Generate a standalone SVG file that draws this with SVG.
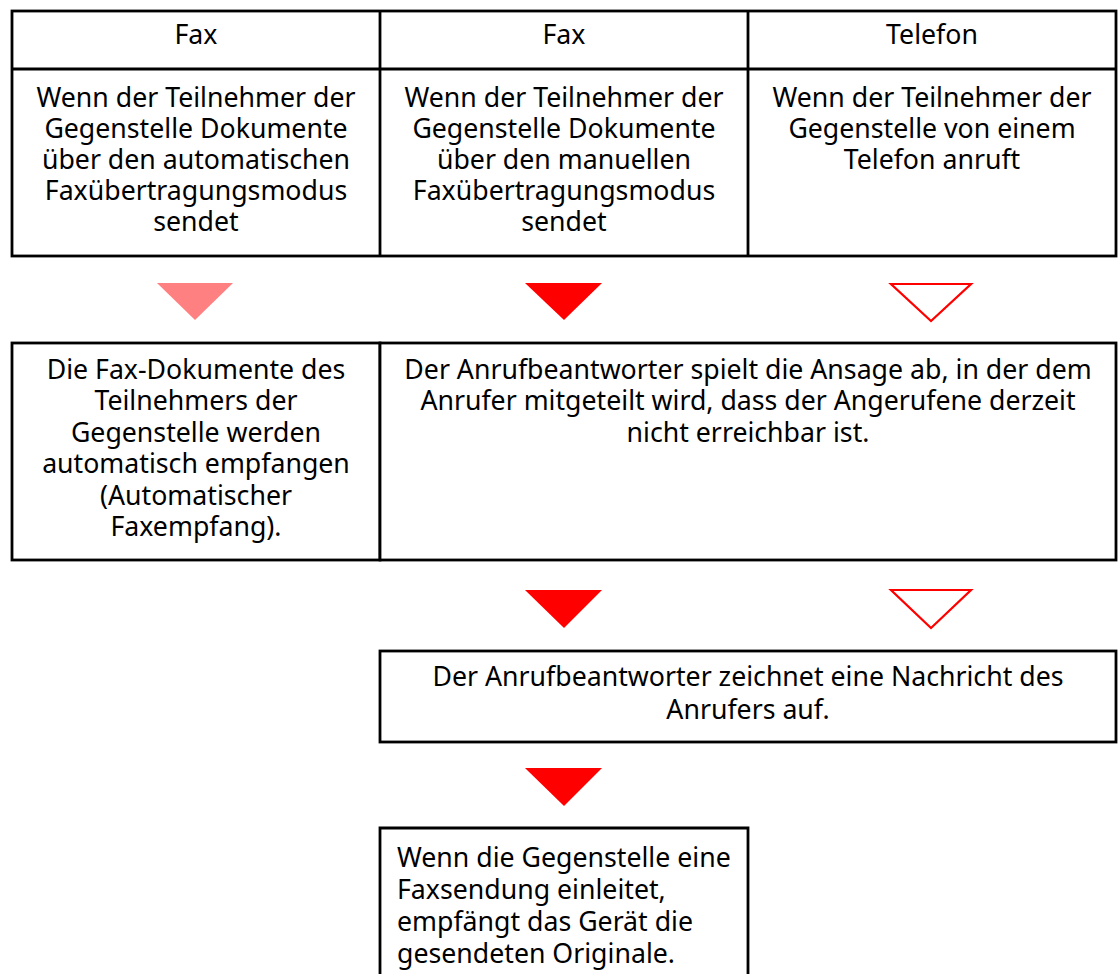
<svg xmlns="http://www.w3.org/2000/svg" width="1120" height="974" viewBox="0 0 1120 974">
<style>
.box{fill:#fff;stroke:#000;stroke-width:2.8}
.ln{fill:none;stroke:#000;stroke-width:2.8}
.t{font-family:"Noto Sans","Open Sans","DejaVu Sans",sans-serif;font-size:26.7px;fill:#000}
.c{text-anchor:middle}
.pink{fill:#ff8080}
.red{fill:#ff0000}
.out{fill:#fff;stroke:#ff0000;stroke-width:2.2}
</style>
<rect width="1120" height="974" fill="#fff"/>
<g id="table-top">
<rect class="box" x="12" y="11" width="1104" height="245"/>
<line class="ln" x1="12" y1="69" x2="1116" y2="69"/>
<line class="ln" x1="380" y1="11" x2="380" y2="256"/>
<line class="ln" x1="748" y1="11" x2="748" y2="256"/>
</g>
<g id="head1"><text class="t c" x="196" y="44">Fax</text></g>
<g id="head2"><text class="t c" x="564" y="44">Fax</text></g>
<g id="head3"><text class="t c" x="932" y="44">Telefon</text></g>
<g id="case1"><text class="t c" x="196" y="107">Wenn der Teilnehmer der<tspan x="196" dy="31">Gegenstelle Dokumente</tspan><tspan x="196" dy="31">über den automatischen</tspan><tspan x="196" dy="31">Faxübertragungsmodus</tspan><tspan x="196" dy="31">sendet</tspan></text></g>
<g id="case2"><text class="t c" x="564" y="107">Wenn der Teilnehmer der<tspan x="564" dy="31">Gegenstelle Dokumente</tspan><tspan x="564" dy="31">über den manuellen</tspan><tspan x="564" dy="31">Faxübertragungsmodus</tspan><tspan x="564" dy="31">sendet</tspan></text></g>
<g id="case3"><text class="t c" x="932" y="107">Wenn der Teilnehmer der<tspan x="932" dy="31">Gegenstelle von einem</tspan><tspan x="932" dy="31">Telefon anruft</tspan></text></g>
<g id="connectors">
<polygon class="pink" points="157,283 233,283 195,320"/>
<polygon class="red" points="525,283 602,283 564,320"/>
<polygon class="out" points="891,284 971,284 931,321"/>
<polygon class="red" points="525,590 602,590 564,628"/>
<polygon class="out" points="891,590 971,590 931,628"/>
<polygon class="red" points="525,768 602,768 564,806"/>
</g>
<g id="auto-receive">
<rect class="box" x="12" y="343" width="368" height="217"/>
<text class="t c" x="196" y="379">Die Fax-Dokumente des<tspan x="196" dy="31.4">Teilnehmers der</tspan><tspan x="196" dy="31.4">Gegenstelle werden</tspan><tspan x="196" dy="31.4">automatisch empfangen</tspan><tspan x="196" dy="31.4">(Automatischer</tspan><tspan x="196" dy="31.4">Faxempfang).</tspan></text>
</g>
<g id="announce">
<rect class="box" x="380" y="343" width="736" height="217"/>
<text class="t c" x="748" y="379">Der Anrufbeantworter spielt die Ansage ab, in der dem<tspan x="748" dy="31.4">Anrufer mitgeteilt wird, dass der Angerufene derzeit</tspan><tspan x="748" dy="31.4">nicht erreichbar ist.</tspan></text>
</g>
<g id="record">
<rect class="box" x="380" y="651" width="736" height="91"/>
<text class="t c" x="748" y="686">Der Anrufbeantworter zeichnet eine Nachricht des<tspan x="748" dy="33">Anrufers auf.</tspan></text>
</g>
<g id="fax-receive">
<path class="ln" d="M380,990 V828 H748 V990"/>
<text class="t" x="397" y="867">Wenn die Gegenstelle eine<tspan x="397" dy="32">Faxsendung einleitet,</tspan><tspan x="397" dy="32">empfängt das Gerät die</tspan><tspan x="397" dy="32">gesendeten Originale.</tspan></text>
</g>
</svg>
